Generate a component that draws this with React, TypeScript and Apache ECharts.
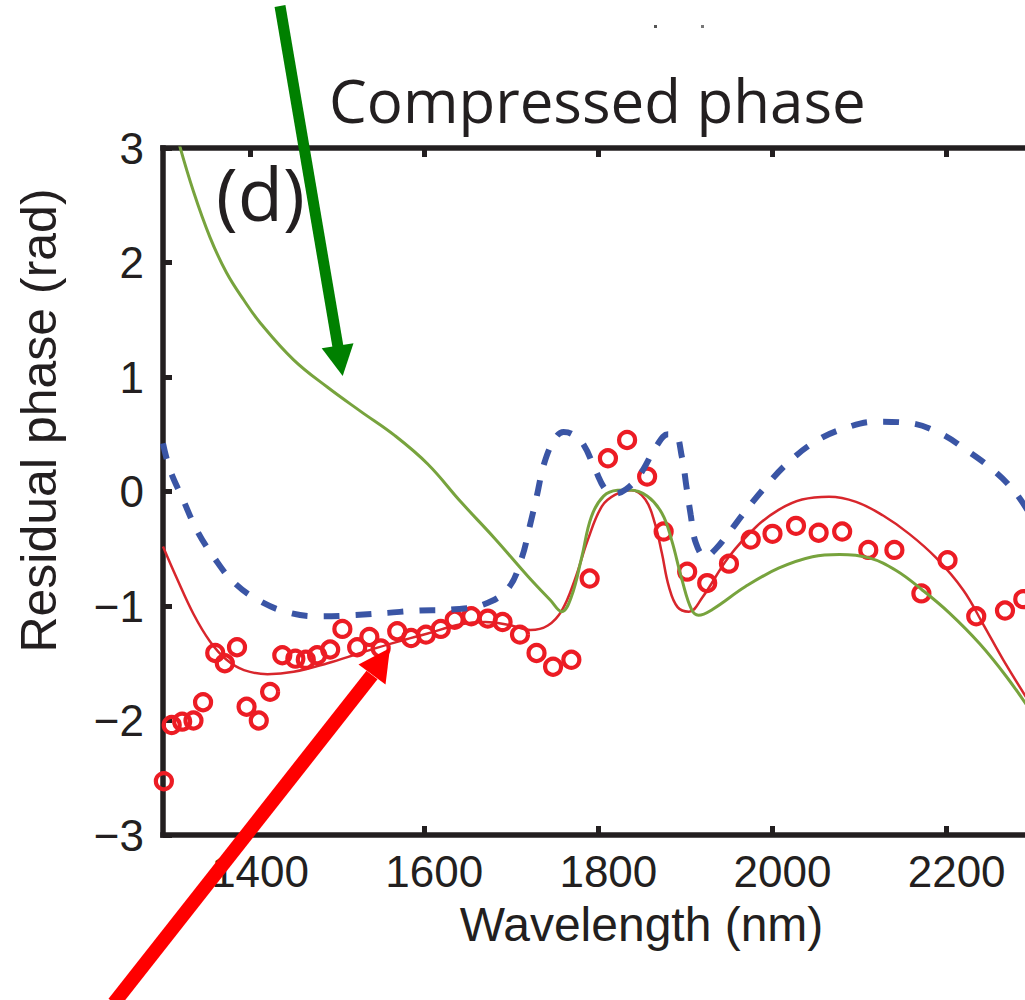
import React, { useEffect, useRef } from "react";
import * as echarts from "echarts";

const xTicks = [1400, 1600, 1800, 2000, 2200];
const xMin = 1300;
const xMax = 2290;
const yMin = -3;
const yMax = 3;
const yStep = 1;

const measured: [number, number][] = [
  [1301, -2.53], [1310, -2.04], [1322, -2.01], [1335, -2.0], [1346, -1.84],
  [1360, -1.41], [1371, -1.5], [1385, -1.36], [1396, -1.88], [1410, -2.0],
  [1423, -1.75], [1437, -1.43], [1452, -1.46], [1464, -1.47], [1477, -1.43],
  [1492, -1.38], [1506, -1.2], [1523, -1.36], [1537, -1.27], [1550, -1.37],
  [1569, -1.22], [1585, -1.28], [1602, -1.25], [1619, -1.2], [1635, -1.12],
  [1654, -1.09], [1673, -1.11], [1690, -1.14], [1710, -1.25], [1729, -1.41],
  [1748, -1.53], [1769, -1.47], [1790, -0.76], [1811, 0.29], [1833, 0.45],
  [1856, 0.13], [1875, -0.35], [1902, -0.7], [1925, -0.8], [1950, -0.63],
  [1975, -0.42], [2000, -0.37], [2027, -0.3], [2053, -0.36], [2080, -0.35],
  [2110, -0.51], [2140, -0.51], [2171, -0.89], [2201, -0.6], [2234, -1.09],
  [2267, -1.04], [2288, -0.94],
];

const redFit: [number, number][] = [
  [1300, -0.48], [1316, -0.76], [1335, -1.07], [1354, -1.31], [1373, -1.47],
  [1393, -1.56], [1420, -1.595], [1450, -1.575], [1489, -1.5], [1527, -1.41],
  [1566, -1.32], [1604, -1.24], [1642, -1.16], [1670, -1.14], [1700, -1.17],
  [1722, -1.21], [1742, -1.17], [1758, -1.04], [1773, -0.77], [1788, -0.42],
  [1804, -0.13], [1819, -0.03], [1838, 0.01], [1854, -0.07], [1865, -0.28],
  [1873, -0.54], [1881, -0.83], [1891, -1.01], [1904, -1.05], [1919, -0.93],
  [1950, -0.57], [1981, -0.31], [2007, -0.16], [2034, -0.07], [2065, -0.045],
  [2096, -0.09], [2127, -0.21], [2157, -0.37], [2188, -0.58], [2219, -0.86],
  [2242, -1.16], [2265, -1.47], [2295, -1.84],
];

const greenFit: [number, number][] = [
  [1318, 3.05], [1335, 2.62], [1354, 2.22], [1373, 1.91], [1393, 1.67],
  [1412, 1.47], [1450, 1.15], [1489, 0.91], [1527, 0.7], [1566, 0.49],
  [1604, 0.24], [1642, -0.09], [1681, -0.41], [1719, -0.74], [1745, -0.95],
  [1758, -1.05], [1769, -0.92], [1781, -0.57], [1792, -0.22], [1806, -0.04],
  [1822, 0.01], [1836, 0.013], [1856, -0.04], [1873, -0.19], [1884, -0.42],
  [1896, -0.77], [1907, -1.03], [1915, -1.08], [1931, -1.03], [1969, -0.83],
  [2007, -0.67], [2046, -0.57], [2077, -0.55], [2111, -0.58], [2142, -0.69],
  [2172, -0.86], [2203, -1.06], [2238, -1.33], [2269, -1.62], [2295, -1.9],
];

const blueFit: [number, number][] = [
  [1300, 0.42], [1308, 0.19], [1323, -0.07], [1339, -0.34], [1358, -0.57],
  [1381, -0.79], [1412, -0.96], [1446, -1.06], [1481, -1.09], [1519, -1.08],
  [1558, -1.06], [1592, -1.04], [1631, -1.03], [1667, -0.99], [1696, -0.85],
  [1712, -0.58], [1721, -0.31], [1729, -0.05], [1738, 0.25], [1750, 0.46],
  [1760, 0.52], [1770, 0.5], [1783, 0.41], [1797, 0.18], [1808, 0.02],
  [1818, -0.02], [1832, 0.02], [1848, 0.15], [1867, 0.4], [1880, 0.5],
  [1888, 0.5], [1896, 0.3], [1901, 0.05], [1906, -0.2], [1912, -0.45],
  [1923, -0.57], [1935, -0.5], [1948, -0.38], [1969, -0.17], [1994, 0.06],
  [2019, 0.26], [2050, 0.44], [2082, 0.55], [2119, 0.61], [2155, 0.6],
  [2192, 0.51], [2223, 0.36], [2253, 0.19], [2278, 0.0], [2295, -0.19],
];

const INK = "#231f20";
const AX_FONT = "Liberation Sans";

const axisLine = { show: true, onZero: false, lineStyle: { color: INK, width: 5.5, cap: "square" } };
const tickStyle = { color: INK, width: 5 };

export default function App() {
  const ref = useRef<HTMLDivElement>(null);
  useEffect(() => {
    const chart = echarts.init(ref.current!, null, { renderer: "svg" });
    chart.setOption({
      animation: false,
      backgroundColor: "#ffffff",
      title: {
        text: "Compressed phase",
        left: 329,
        top: 70,
        padding: 0,
        textStyle: { fontFamily: "Open Sans", fontSize: 60, fontWeight: "normal", color: INK },
      },
      grid: { left: 163, right: 0, top: 148, bottom: 165, containLabel: false },
      xAxis: [
        {
          type: "value",
          min: xMin,
          max: xMax,
          position: "bottom",
          axisLine,
          splitLine: { show: false },
          axisTick: { show: true, inside: true, length: 9, customValues: xTicks, lineStyle: tickStyle },
          axisLabel: {
            customValues: xTicks,
            margin: 14,
            padding: [0, 0, 0, 20],
            fontFamily: AX_FONT,
            fontSize: 44,
            color: INK,
            formatter: (v: number) => String(v),
          },
          name: "Wavelength (nm)",
          nameLocation: "middle",
          nameGap: 65,
          nameTextStyle: { fontFamily: AX_FONT, fontSize: 48, color: INK, padding: [0, 0, 0, 95] },
        },
        {
          type: "value",
          min: xMin,
          max: xMax,
          position: "top",
          axisLine,
          splitLine: { show: false },
          axisTick: { show: true, inside: true, length: 9, customValues: xTicks, lineStyle: tickStyle },
          axisLabel: { show: false },
        },
      ],
      yAxis: {
        type: "value",
        min: yMin,
        max: yMax,
        interval: yStep,
        axisLine,
        splitLine: { show: false },
        axisTick: { show: true, inside: true, length: 9, lineStyle: tickStyle },
        axisLabel: {
          margin: 19,
          fontFamily: AX_FONT,
          fontSize: 44,
          color: INK,
          formatter: (v: number) => (v < 0 ? "\u2212" + Math.abs(v) : String(v)),
        },
        name: "Residual phase (rad)",
        nameLocation: "middle",
        nameRotate: 90,
        nameGap: 99,
        nameTextStyle: { fontFamily: AX_FONT, fontSize: 50, color: INK, padding: [0, 0, 0, 142] },
      },
      series: [
        {
          type: "line",
          data: redFit,
          showSymbol: false,
          smooth: 0.4,
          lineStyle: { color: "#d8262c", width: 2.5 },
          z: 2,
        },
        {
          type: "scatter",
          data: measured,
          symbol: "circle",
          symbolSize: 16,
          clip: false,
          itemStyle: { color: "rgba(0,0,0,0)", borderColor: "#ec1c24", borderWidth: 4.2, opacity: 1 },
          z: 3,
        },
        {
          type: "line",
          data: greenFit,
          showSymbol: false,
          smooth: 0.4,
          lineStyle: { color: "#77a33d", width: 3 },
          z: 4,
        },
        {
          type: "line",
          data: blueFit,
          showSymbol: false,
          smooth: 0.4,
          lineStyle: { color: "#3a55a5", width: 6, type: [16, 16], cap: "butt" },
          z: 5,
        },
      ],
      graphic: [
        {
          type: "text",
          x: 216,
          y: 192,
          z: 100,
          style: { text: "(d)", fontFamily: "Open Sans", fontSize: 74, fill: INK, align: "left", verticalAlign: "middle" },
        },
        { type: "rect", shape: { x: 654, y: 25, width: 3, height: 3 }, style: { fill: "#555" }, z: 100 },
        { type: "rect", shape: { x: 701, y: 25, width: 3, height: 3 }, style: { fill: "#777" }, z: 100 },
        {
          type: "line",
          shape: { x1: 280, y1: 6, x2: 338, y2: 347 },
          style: { stroke: "#008000", lineWidth: 11 },
          z: 100,
        },
        {
          type: "polygon",
          shape: { points: [[342.7, 376], [321.7, 348.3], [353.5, 343.3]] },
          style: { fill: "#008000" },
          z: 100,
        },
        {
          type: "line",
          shape: { x1: 114, y1: 1003, x2: 372, y2: 675 },
          style: { stroke: "#ff0000", lineWidth: 14 },
          z: 100,
        },
        {
          type: "polygon",
          shape: { points: [[390, 648], [358.5, 664.5], [385.5, 684.5]] },
          style: { fill: "#ff0000" },
          z: 100,
        },
      ],
    });
    return () => chart.dispose();
  }, []);
  return (
    <div
      ref={ref}
      style={{ position: "fixed", left: 0, top: 0, width: 1025, height: 1000, background: "#ffffff" }}
    />
  );
}
